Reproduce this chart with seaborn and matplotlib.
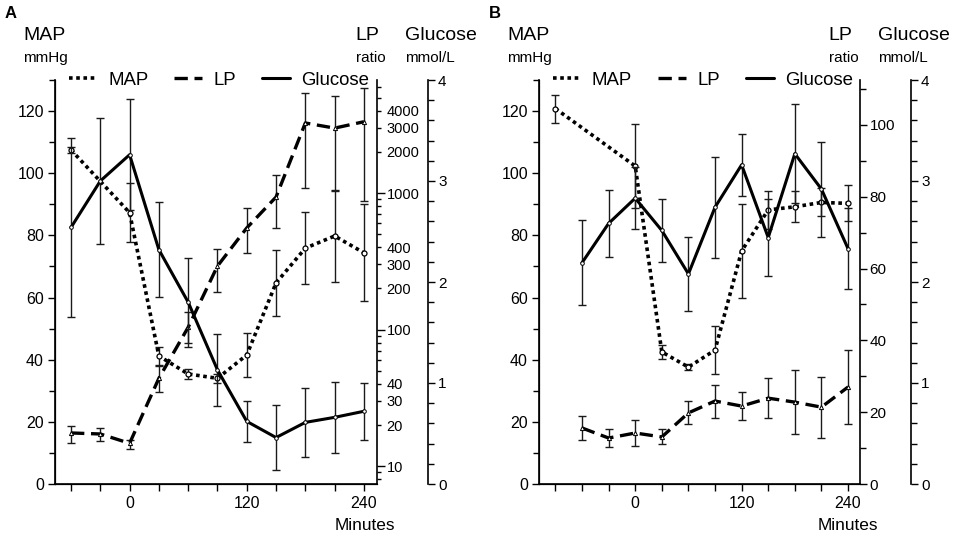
import matplotlib
matplotlib.use("Agg")
import matplotlib.pyplot as plt
import seaborn as sns
import numpy as np
from matplotlib.lines import Line2D
from matplotlib.ticker import FixedLocator, MultipleLocator, FuncFormatter

# ---- data (panel A) ----
time_a_map = [-60, 0, 30, 60, 90, 120, 150, 180, 210, 240]
map_a = [107.5, 87.3, 41.2, 35.4, 34.0, 41.5, 64.7, 75.9, 79.8, 74.4]
map_a_sd = [1.0, 9.5, 3.0, 1.5, 1.5, 7.0, 10.5, 11.7, 14.8, 15.6]

time_a = [-60, -30, 0, 30, 60, 90, 120, 150, 180, 210, 240]
lp_a = [17.5, 17.2, 14.7, 44, 104, 292, 555, 935, 3260, 2990, 3330]
lp_a_low = [14.8, 15.3, 13.3, 35, 80, 188, 362, 555, 1090, 1040, 870]
lp_a_high = [19.6, 19.0, 15.5, 54, 135, 389, 776, 1350, 5400, 5130, 5900]
glu_a = [2.54, 3.00, 3.26, 2.32, 1.80, 1.13, 0.62, 0.46, 0.61, 0.66, 0.72]
glu_a_sd = [0.89, 0.62, 0.55, 0.47, 0.44, 0.36, 0.20, 0.32, 0.34, 0.35, 0.28]

# ---- data (panel B) ----
time_b_map = [-90, 0, 30, 60, 90, 120, 150, 180, 210, 240]
map_b = [120.8, 102.3, 42.5, 37.6, 43.1, 75.0, 88.2, 89.2, 90.6, 90.3]
map_b_sd = [4.5, 13.5, 2.3, 1.0, 7.7, 15.0, 6.0, 5.0, 4.5, 5.8]

time_b = [-60, -30, 0, 30, 60, 90, 120, 150, 180, 210, 240]
lp_b = [15.6, 12.8, 14.2, 13.1, 19.8, 23.1, 21.7, 23.9, 22.8, 21.4, 27.0]
lp_b_sd = [3.35, 2.5, 3.6, 2.1, 3.2, 4.6, 3.9, 5.5, 9.0, 8.5, 10.3]
glu_b = [2.19, 2.58, 2.83, 2.51, 2.08, 2.74, 3.16, 2.44, 3.27, 2.92, 2.33]
glu_b_sd = [0.42, 0.33, 0.31, 0.31, 0.37, 0.50, 0.31, 0.38, 0.49, 0.47, 0.40]

sns.set_style("ticks")
plt.rcParams['font.family'] = ['Liberation Sans', 'DejaVu Sans']
plt.rcParams['text.color'] = 'black'
plt.rcParams['xtick.color'] = 'black'
plt.rcParams['ytick.color'] = 'black'
plt.rcParams['axes.edgecolor'] = 'black'

W, H = 957, 536
fig = plt.figure(figsize=(W / 100, H / 100), dpi=100)

DOT = (0, (1, 1))
DASH = (0, (4, 2))
EB = dict(fmt='none', ecolor='#1a1a1a', elinewidth=1.0, capsize=3, capthick=1.0, zorder=2)


def px(x, y):
    return x / W, 1 - y / H


def base_axes(left, right, xlim):
    ax = fig.add_axes([left / W, 1 - 484 / H, (right - left) / W, 404 / H])
    ax.set_xlim(*xlim)
    ax.set_ylim(0, 130)
    ax.spines['top'].set_visible(False)
    ax.spines['right'].set_visible(False)
    ax.yaxis.set_major_locator(MultipleLocator(20))
    ax.yaxis.set_minor_locator(MultipleLocator(10))
    ax.xaxis.set_major_locator(FixedLocator([0, 120, 240]))
    ax.xaxis.set_minor_locator(FixedLocator([-90, -60, -30, 30, 60, 90, 150, 180, 210]))
    ax.tick_params(axis='y', which='major', length=5, width=1, labelsize=11.5, pad=3)
    ax.tick_params(axis='y', which='minor', length=4, width=1)
    ax.tick_params(axis='x', which='both', length=5, width=1, labelsize=11.5, pad=4)
    ax.set_xlabel('')
    ax.set_ylabel('')
    for s in ax.spines.values():
        s.set_linewidth(1.2)
    return ax


def glucose_axes(ax):
    ax3 = ax.twinx()
    ax3.set_ylim(0, 4)
    ax3.spines['right'].set_position(('outward', 37))
    ax3.spines['top'].set_visible(False)
    ax3.spines['right'].set_linewidth(1.2)
    ax3.yaxis.set_major_locator(MultipleLocator(1))
    ax3.yaxis.set_minor_locator(MultipleLocator(0.2))
    ax3.tick_params(axis='y', which='major', length=5, width=1, labelsize=11, pad=2)
    ax3.tick_params(axis='y', which='minor', length=4, width=1)
    ax3.set_ylabel('')
    return ax3


def draw_lines(ax_map, ax_lp, ax_glu, tm, mp, t, lp, glu):
    sns.lineplot(x=tm, y=mp, ax=ax_map, color='black', linestyle=DOT, linewidth=2.6,
                 marker='o', markersize=3.6, markerfacecolor='white', markeredgecolor='black',
                 markeredgewidth=0.9, zorder=4)
    sns.lineplot(x=t, y=lp, ax=ax_lp, color='black', linestyle=DASH, linewidth=2.4,
                 marker='^', markersize=3, markerfacecolor='white', markeredgecolor='black',
                 markeredgewidth=0.7, zorder=4)
    sns.lineplot(x=t, y=glu, ax=ax_glu, color='black', linestyle='-', linewidth=2.2,
                 marker='o', markersize=2.6, markerfacecolor='white', markeredgecolor='black',
                 markeredgewidth=0.7, zorder=4)
    for a in (ax_map, ax_lp, ax_glu):
        a.set_xlabel('')
        a.set_ylabel('')


def headers(letter, lx, x_map, x_lp, x_glu):
    fig.text(*px(lx, 14), letter, fontsize=12, fontweight='bold', ha='left', va='center')
    fig.text(*px(x_map, 36), 'MAP', fontsize=14, ha='left', va='center')
    fig.text(*px(x_map, 58), 'mmHg', fontsize=11, ha='left', va='center')
    fig.text(*px(x_lp, 36), 'LP', fontsize=14, ha='center', va='center')
    fig.text(*px(x_lp + 4, 58), 'ratio', fontsize=11, ha='center', va='center')
    fig.text(*px(x_glu, 36), 'Glucose', fontsize=14, ha='left', va='center')
    fig.text(*px(x_glu, 58), 'mmol/L', fontsize=11, ha='left', va='center')


def legend_and_minutes(ax):
    handles = [Line2D([], [], color='black', linestyle=DOT, linewidth=2.6),
               Line2D([], [], color='black', linestyle=DASH, linewidth=2.4),
               Line2D([], [], color='black', linestyle='-', linewidth=2.2)]
    leg = ax.legend(handles, ['MAP', 'LP', 'Glucose'], loc='center', bbox_to_anchor=(0.51, 1.0),
                    ncol=3, frameon=False, fontsize=13.4, handlelength=1.5,
                    handletextpad=0.6, columnspacing=1.4, borderpad=0)
    leg.set_zorder(10)
    ax.text(0.963, -0.1015, 'Minutes', transform=ax.transAxes, fontsize=12.4,
            ha='center', va='center')


# ---------- panel A ----------
axA = base_axes(55, 377, (-76.4, 253.4))
axA_lp = axA.twinx()
axA_lp.set_yscale('log')
axA_lp.set_ylim(7.4, 6730)
axA_lp.spines['top'].set_visible(False)
axA_lp.spines['right'].set_linewidth(1.2)
axA_lp.yaxis.set_major_locator(FixedLocator([10, 100, 1000]))
axA_lp.yaxis.set_minor_locator(FixedLocator([8, 9, 20, 30, 40, 50, 60, 70, 80, 90,
                                             200, 300, 400, 500, 600, 700, 800, 900,
                                             2000, 3000, 4000, 5000, 6000]))
axA_lp.yaxis.set_major_formatter(FuncFormatter(lambda v, p: f"{v:.0f}"))
axA_lp.yaxis.set_minor_formatter(FuncFormatter(
    lambda v, p: f"{v:.0f}" if round(v) in (20, 30, 40, 200, 300, 400, 2000, 3000, 4000) else ""))
axA_lp.tick_params(axis='y', which='major', length=6, width=1, labelsize=10.5, pad=1)
axA_lp.tick_params(axis='y', which='minor', length=3, width=1, labelsize=10.5, pad=4)
axA_glu = glucose_axes(axA)

axA.errorbar(time_a_map, map_a, yerr=map_a_sd, **EB)
lp_a_err = [np.array(lp_a) - np.array(lp_a_low), np.array(lp_a_high) - np.array(lp_a)]
axA_lp.errorbar(time_a, lp_a, yerr=lp_a_err, **EB)
axA_glu.errorbar(time_a, glu_a, yerr=glu_a_sd, **EB)
draw_lines(axA, axA_lp, axA_glu, time_a_map, map_a, time_a, lp_a, glu_a)
axA_glu.set_zorder(axA.get_zorder() + 2)
axA_lp.set_zorder(axA.get_zorder() + 1)
legend_and_minutes(axA_glu)
headers('A', 5, 23, 367, 405)

# ---------- panel B ----------
axB = base_axes(539, 860, (-108.5, 253.5))
axB_lp = axB.twinx()
axB_lp.set_ylim(0, 112.5)
axB_lp.spines['top'].set_visible(False)
axB_lp.spines['right'].set_linewidth(1.2)
axB_lp.yaxis.set_major_locator(MultipleLocator(20))
axB_lp.yaxis.set_minor_locator(MultipleLocator(10))
axB_lp.tick_params(axis='y', which='major', length=5, width=1, labelsize=11, pad=2)
axB_lp.tick_params(axis='y', which='minor', length=4, width=1)
axB_glu = glucose_axes(axB)

axB.errorbar(time_b_map, map_b, yerr=map_b_sd, **EB)
axB_lp.errorbar(time_b, lp_b, yerr=lp_b_sd, **EB)
axB_glu.errorbar(time_b, glu_b, yerr=glu_b_sd, **EB)
draw_lines(axB, axB_lp, axB_glu, time_b_map, map_b, time_b, lp_b, glu_b)
axB_glu.set_zorder(axB.get_zorder() + 2)
axB_lp.set_zorder(axB.get_zorder() + 1)
legend_and_minutes(axB_glu)
headers('B', 489, 507, 840, 878)

fig.savefig("out.png", dpi=100)
